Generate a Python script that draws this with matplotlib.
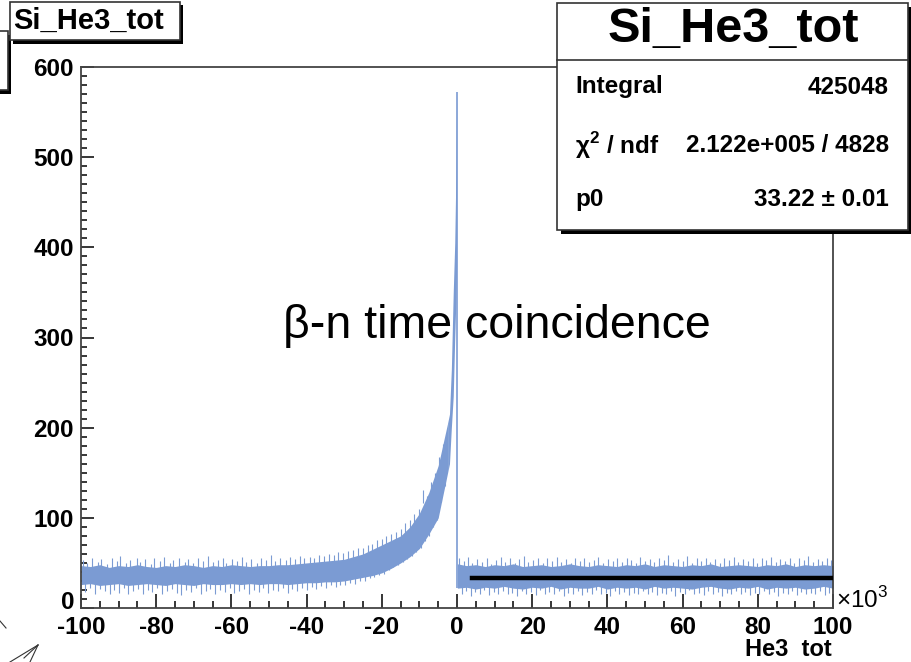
import matplotlib
matplotlib.use("Agg")
import matplotlib.pyplot as plt
from matplotlib.patches import Rectangle
from matplotlib.lines import Line2D
from matplotlib.ticker import MultipleLocator
from matplotlib.transforms import ScaledTranslation

plt.rcParams['font.family'] = ['Liberation Sans', 'DejaVu Sans']
plt.rcParams['mathtext.fontset'] = 'custom'
plt.rcParams['mathtext.rm'] = 'Liberation Sans'
plt.rcParams['mathtext.bf'] = 'Liberation Sans:bold'

# histogram band, x in units of 10^3
left_x = [-100, -97.5, -95, -92.5, -90, -87.5, -85, -82.5, -80, -77.5,
          -75, -72.5, -70, -67.5, -65, -62.5, -60, -57.5, -55, -52.5,
          -50, -47.5, -45, -42.5, -40, -37.5, -35, -32.5, -30, -27.5,
          -25, -22.5, -20, -17.5, -15, -12.5, -10, -7.5, -5, -2.5]
left_hi = [47, 46, 48, 45, 47, 46, 48, 46, 45, 47, 46, 48, 47, 45, 47, 46, 48,
           47, 46, 47, 47, 48, 48, 49, 50,
           51, 52, 53, 54, 57, 60, 65, 70, 75, 80, 90, 105, 128, 158, 205]
left_lo = [26, 27, 25, 26, 27, 25, 26, 27, 26, 25, 27, 26, 25, 27, 26, 26, 27,
           26, 27, 26, 27, 27, 26, 27, 28,
           28, 29, 29, 30, 32, 34, 36, 39, 44, 50, 57, 66, 82, 100, 150]

peak_x = [-2.5, -2.0, -1.5, -1.0, -0.6, -0.3, -0.1]
peak_hi = [205, 215, 265, 350, 405, 480, 572]
peak_lo = [150, 160, 200, 235, 300, 340, 380]

right_x = [0.1, 2.5, 5, 7.5, 10, 12.5, 15, 17.5, 20, 22.5,
           25, 27.5, 30, 32.5, 35, 37.5, 40, 42.5, 45, 47.5,
           50, 52.5, 55, 57.5, 60, 62.5, 65, 67.5, 70, 72.5,
           75, 77.5, 80, 82.5, 85, 87.5, 90, 92.5, 95, 97.5, 100]
right_hi = [49, 47, 48, 46, 48, 47, 49, 46, 47, 48,
            46, 47, 49, 47, 46, 48, 47, 46, 48, 47,
            49, 46, 48, 47, 46, 48, 47, 49, 46, 47,
            48, 47, 46, 48, 47, 49, 46, 48, 47, 48, 47]
right_lo = [22, 23, 21, 23, 22, 24, 22, 21, 23, 22,
            24, 21, 23, 22, 22, 24, 21, 23, 22, 23,
            21, 24, 22, 23, 22, 21, 23, 24, 22, 21,
            23, 22, 24, 21, 23, 22, 23, 21, 22, 24, 22]

# single bins sticking out above / below the band (x, counts)
spikes_up = [
    (-99.6, 53), (-98.3, 50), (-97.1, 56), (-95.4, 51), (-94.6, 54), (-93.0, 49),
    (-91.8, 55), (-90.5, 52), (-89.7, 58), (-88.1, 50), (-86.9, 53), (-85.2, 56),
    (-84.4, 51), (-83.0, 54), (-81.5, 49), (-80.7, 55), (-79.1, 52), (-77.8, 57),
    (-76.3, 50), (-75.6, 53), (-74.0, 56), (-72.4, 51), (-71.6, 54), (-70.2, 50),
    (-68.8, 55), (-67.5, 52), (-66.1, 58), (-65.0, 51), (-63.6, 53), (-62.3, 56),
    (-61.4, 50), (-59.9, 54), (-58.5, 52), (-57.2, 57), (-56.0, 51), (-54.7, 54),
    (-53.3, 50), (-52.1, 55), (-50.8, 53), (-49.4, 59), (-48.5, 52), (-47.0, 55),
    (-45.6, 53), (-44.3, 57), (-43.1, 54), (-41.8, 58), (-40.6, 55), (-39.2, 57),
    (-38.0, 56), (-36.7, 59), (-35.3, 58), (-34.1, 60), (-32.8, 59), (-31.6, 62),
    (-30.2, 61), (-29.0, 63), (-27.7, 64), (-26.4, 67), (-25.1, 66), (-23.8, 70),
    (-22.6, 71), (-21.3, 75), (-20.0, 76), (-18.8, 80), (-17.5, 82), (-16.3, 84),
    (-15.0, 88), (-13.8, 94), (-12.6, 98), (-11.4, 104), (-10.2, 110), (-9.1, 131),
    (-8.0, 124), (-6.9, 140), (-5.8, 150), (-4.8, 168), (-3.7, 182),
    (0.6, 55), (1.8, 52), (3.0, 57), (4.1, 50), (5.4, 54), (6.6, 51), (7.9, 56),
    (9.1, 49), (10.4, 53), (11.6, 57), (12.8, 51), (14.1, 55), (15.3, 50),
    (16.6, 54), (17.8, 58), (19.0, 51), (20.3, 53), (21.5, 56), (22.8, 50),
    (24.0, 55), (25.2, 52), (26.5, 57), (27.7, 51), (29.0, 54), (30.2, 50),
    (31.4, 56), (32.7, 52), (33.9, 55), (35.2, 51), (36.4, 53), (37.6, 57),
    (38.9, 50), (40.1, 54), (41.4, 52), (42.6, 56), (43.8, 51), (45.1, 55),
    (46.3, 53), (47.6, 50), (48.8, 57), (50.0, 52), (51.3, 54), (52.5, 51),
    (53.8, 56), (55.0, 53), (56.2, 59), (57.5, 51), (58.7, 54), (60.0, 52),
    (61.2, 58), (62.4, 50), (63.7, 55), (64.9, 52), (66.2, 56), (67.4, 51),
    (68.6, 54), (69.9, 50), (71.1, 55), (72.4, 53), (73.6, 57), (74.8, 51),
    (76.1, 54), (77.3, 52), (78.6, 56), (79.8, 50), (81.0, 55), (82.3, 53),
    (83.5, 57), (84.8, 51), (86.0, 54), (87.2, 52), (88.5, 56), (89.7, 50),
    (91.0, 55), (92.2, 53), (93.4, 58), (94.7, 51), (95.9, 54), (97.2, 52),
    (98.4, 56), (99.6, 53)]
spikes_dn = [
    (-99.0, 18), (-97.7, 22), (-96.2, 16), (-95.0, 21), (-93.7, 19), (-92.3, 15),
    (-91.1, 20), (-89.9, 17), (-88.6, 22), (-87.4, 16), (-86.1, 19), (-84.8, 21),
    (-83.6, 15), (-82.2, 20), (-81.0, 18), (-79.7, 22), (-78.4, 16), (-77.0, 19),
    (-75.9, 21), (-74.6, 17), (-73.3, 14), (-72.0, 20), (-70.8, 18), (-69.5, 22),
    (-68.1, 16), (-66.8, 19), (-65.6, 21), (-64.3, 15), (-63.0, 20), (-61.8, 18),
    (-60.4, 22), (-59.2, 17), (-57.9, 19), (-56.6, 21), (-55.3, 16), (-54.0, 20),
    (-52.7, 18), (-51.5, 22), (-50.2, 17), (-48.9, 20), (-47.7, 19), (-46.3, 22),
    (-45.0, 17), (-43.8, 21), (-42.5, 19), (-41.2, 22), (-40.0, 20), (-38.6, 23),
    (-37.4, 21), (-36.1, 24), (-34.8, 22), (-33.5, 25), (-32.3, 23), (-31.0, 26),
    (-29.7, 25), (-28.4, 28), (-27.1, 27), (-25.8, 30), (-24.5, 30), (-23.2, 33),
    (-22.0, 34), (-20.7, 37), (-19.4, 38), (-18.1, 42), (-16.9, 45), (-15.6, 48),
    (-14.4, 51), (-13.2, 54), (-12.0, 58), (-10.8, 62), (-9.6, 66), (-8.5, 74),
    (-7.4, 80), (-6.3, 90), (-5.2, 98), (-4.2, 118), (-3.2, 135),
    (1.2, 15), (2.4, 19), (3.6, 13), (4.8, 18), (6.0, 16), (7.3, 20), (8.5, 14),
    (9.8, 18), (11.0, 16), (12.2, 19), (13.5, 15), (14.7, 17), (16.0, 13),
    (17.2, 19), (18.4, 16), (19.7, 18), (20.9, 14), (22.2, 20), (23.4, 16),
    (24.6, 18), (25.9, 15), (27.1, 19), (28.4, 13), (29.6, 17), (30.8, 16),
    (32.1, 19), (33.3, 14), (34.6, 18), (35.8, 16), (37.0, 20), (38.3, 15),
    (39.5, 17), (40.8, 13), (42.0, 19), (43.2, 16), (44.5, 18), (45.7, 14),
    (47.0, 17), (48.2, 16), (49.4, 19), (50.7, 15), (51.9, 18), (53.2, 14),
    (54.4, 17), (55.6, 16), (56.9, 19), (58.1, 13), (59.4, 18), (60.6, 16),
    (61.8, 20), (63.1, 15), (64.3, 17), (65.6, 14), (66.8, 19), (68.0, 16),
    (69.3, 18), (70.5, 13), (71.8, 17), (73.0, 16), (74.2, 19), (75.5, 15),
    (76.7, 18), (78.0, 14), (79.2, 17), (80.4, 16), (81.7, 19), (82.9, 15),
    (84.2, 18), (85.4, 13), (86.6, 17), (87.9, 16), (89.1, 19), (90.4, 14),
    (91.6, 18), (92.8, 16), (94.1, 17), (95.3, 15), (96.6, 19), (97.8, 14),
    (99.0, 17)]

fit_x = [4, 100]
fit_p0 = 33.22

x_ticks = [-100, -80, -60, -40, -20, 0, 20, 40, 60, 80, 100]
y_ticks = [0, 100, 200, 300, 400, 500, 600]

hist_color = '#7b9bd3'

W, H = 912, 662


def fx(px):
    return px / W


def fy(py):
    return 1 - py / H


fig = plt.figure(figsize=(9.12, 6.62), dpi=100)
ax = fig.add_axes([fx(81), fy(608), fx(833) - fx(81), fy(67) - fy(608)])

ax.fill_between(left_x, left_lo, left_hi, color=hist_color, lw=0, zorder=2)
ax.fill_between(peak_x, peak_lo, peak_hi, color=hist_color, lw=0, zorder=2)
ax.fill_between(right_x, right_lo, right_hi, color=hist_color, lw=0, zorder=2)

ux = [s[0] for s in spikes_up]
uy = [s[1] for s in spikes_up]
dx = [s[0] for s in spikes_dn]
dy = [s[1] for s in spikes_dn]
ax.vlines(ux, [v - 14 for v in uy], uy, color=hist_color, lw=0.8, zorder=2)
ax.vlines(dx, dy, [v + 14 for v in dy], color=hist_color, lw=0.8, zorder=2)
ax.vlines(-0.05, right_lo[0], max(peak_hi), color=hist_color, lw=1.2, zorder=3)

ax.plot(fit_x, [fit_p0, fit_p0], color='black', lw=3.2, zorder=4)

ax.text(10.5, (608 - 326) / 0.9017,
        'β-n time coincidence', fontsize=33.5, ha='center', va='center', zorder=1)

ax.set_xlim(-100, 100)
ax.set_ylim(0, 600)
ax.set_xticks(x_ticks)
ax.set_xticklabels([str(v) for v in x_ticks])
ax.set_yticks(y_ticks)
ax.set_yticklabels([str(v) for v in y_ticks])
ax.xaxis.set_minor_locator(MultipleLocator(5))
ax.yaxis.set_minor_locator(MultipleLocator(10))
ax.tick_params(which='both', direction='in', top=False, right=False, width=1.1)
ax.tick_params(axis='x', which='major', length=10, pad=6)
ax.tick_params(axis='x', which='minor', length=5)
ax.tick_params(axis='y', which='major', length=9, pad=5)
ax.tick_params(axis='y', which='minor', length=4.5)
for lab in ax.get_xticklabels() + ax.get_yticklabels():
    lab.set_fontsize(17.5)
    lab.set_fontweight('bold')
# lift the "0" of the y axis a little, as in the original
zero_lab = ax.yaxis.get_major_ticks()[0].label1
zero_lab.set_transform(zero_lab.get_transform()
                       + ScaledTranslation(0, 8 / 100, fig.dpi_scale_trans))
for sp in ax.spines.values():
    sp.set_color('#444444')
    sp.set_linewidth(1.3)

fig.text(fx(832), fy(650), 'He3  tot', fontsize=17, fontweight='bold',
         ha='right', va='center')
fig.text(fx(836), fy(600), '×10$^{3}$', fontsize=17.5, ha='left', va='center')


def box(x0, y0, x1, y1, shadow=3.5):
    fig.add_artist(Rectangle((fx(x0 + shadow), fy(y1 + shadow)),
                             fx(x1 - x0), fy(y0) - fy(y1),
                             transform=fig.transFigure, facecolor='black',
                             edgecolor='none', zorder=5))
    fig.add_artist(Rectangle((fx(x0), fy(y1)), fx(x1 - x0), fy(y0) - fy(y1),
                             transform=fig.transFigure, facecolor='white',
                             edgecolor='#333333', lw=1.2, zorder=6))


# partly hidden boxes at the top left
box(-12, 31, 8, 90)
box(10, 2, 180, 40)
fig.text(fx(13), fy(21), 'Si_He3_tot', fontsize=21, fontweight='bold',
         ha='left', va='center', zorder=7)

# stats box
box(557, 3, 908, 230)
fig.add_artist(Line2D([fx(557), fx(908)], [fy(60), fy(60)],
                      transform=fig.transFigure, color='#333333', lw=1.2, zorder=7))
fig.text(fx(733), fy(29), 'Si_He3_tot', fontsize=35, fontweight='bold',
         ha='center', va='center', zorder=7)
rows = [('Integral', '425048', 87),
        ('χ$^{\\mathbf{2}}$ / ndf', '2.122e+005 / 4828', 146),
        ('p0', '33.22 ± 0.01', 200)]
for name, val, py in rows:
    fig.text(fx(575), fy(py), name, fontsize=17.5, fontweight='bold',
             ha='left', va='center', zorder=7)
    fig.text(fx(889), fy(py), val, fontsize=17.5, fontweight='bold',
             ha='right', va='center', zorder=7)

# stray arrow strokes at the bottom left
for (xa, ya, xb, yb) in [(0, 621, 6, 628), (10, 662, 38, 645),
                         (24, 658, 38, 645), (30, 662, 38, 645)]:
    fig.add_artist(Line2D([fx(xa), fx(xb)], [fy(ya), fy(yb)],
                          transform=fig.transFigure, color='#333333', lw=0.8))

fig.savefig('out.png', dpi=100)
